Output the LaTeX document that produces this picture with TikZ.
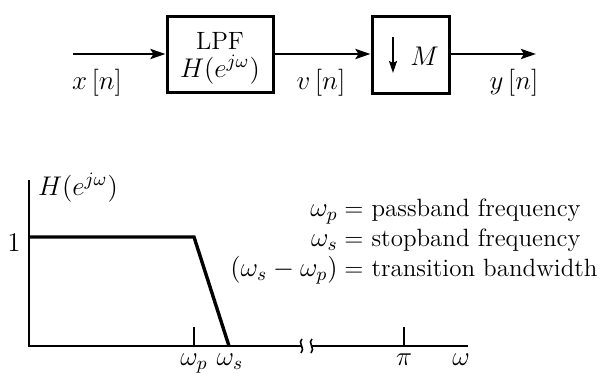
\RequirePackage{fix-cm}
\documentclass[tikz,border=0pt]{standalone}
\usetikzlibrary{arrows.meta}
\begin{document}
\begin{tikzpicture}[x=0.5pt,y=-0.5pt,
  every node/.style={font=\fontsize{12.5}{15}\selectfont, inner sep=0pt},
  mathlab/.style={font=\fontsize{13.5}{15}\selectfont},
  blockbox/.style={draw, line width=1.5pt},
  sig/.style={line width=1.4pt, -{Stealth[length=7.5pt,width=5pt,inset=1.5pt]}},
  axisline/.style={line width=0.9pt},
  resp/.style={line width=1.7pt, line join=miter},
  tickline/.style={line width=0.6pt}]
\useasboundingbox (0,0) rectangle (600,374);
% ---- block diagram ----
\coordinate (in) at (73,54);
\node[blockbox, minimum width=53pt, minimum height=38pt] (lpf) at (220,55) {};
\node (lpft) at (220,41) {LPF};
\node[mathlab] (lpfh) at (220,70) {$H(e^{j\omega})$};
\node[blockbox, minimum width=38.5pt, minimum height=38.5pt] (dec) at (410.5,55.5) {};
\coordinate (out) at (536,54);
\coordinate (dtop) at (393,37);
\coordinate (dbot) at (393,73);
\node[mathlab, anchor=west] (mlab) at (410,56) {$M$};
\draw[sig] (in) -- (in -| lpf.west);
\draw[sig] (lpf.east |- in) -- (in -| dec.west);
\draw[sig] (dec.east |- out) -- (out);
\draw[line width=1pt, -{Stealth[length=6pt,width=4pt,inset=1pt]}] (dtop) -- (dbot);
\node[mathlab] (xn) at (97,83) {$x\,[n]$};
\node[mathlab] (vn) at (321,83) {$v\,[n]$};
\node[mathlab] (yn) at (514,83) {$y\,[n]$};
% ---- frequency response ----
\coordinate (o) at (29,346);
\coordinate (ytop) at (29,180);
\coordinate (b1) at (302,346);
\coordinate (b2) at (312,346);
\coordinate (xend) at (468,346);
\draw[axisline] (ytop) -- (o) -- (b1);
\draw[axisline] (b2) -- (xend);
\draw[line width=0.8pt] (302,339) .. controls (297,342) and (306,349) .. (301,353);
\draw[line width=0.8pt] (312,339) .. controls (307,342) and (316,349) .. (311,353);
\coordinate (p1) at (29,237);
\coordinate (wp) at (194,237);
\coordinate (ws) at (229,346);
\draw[resp] (p1) -- (wp) -- (ws);
\coordinate (tp) at (194,327);
\coordinate (tpb) at (194,346);
\coordinate (tpi) at (404,327);
\coordinate (tpib) at (404,346);
\draw[tickline] (tp) -- (tpb);
\draw[tickline] (tpi) -- (tpib);
\node[mathlab] (hlab) at (78,188) {$H(e^{j\omega})$};
\node[mathlab] (one) at (14,243) {1};
\node[mathlab, anchor=north] (wpl) at (194,353) {$\omega_p$};
\node[mathlab, anchor=north] (wsl) at (230,353) {$\omega_s$};
\node[mathlab, anchor=north] (pil) at (404,353) {$\pi$};
\node[mathlab, anchor=north] (wl) at (461,353) {$\omega$};
\node[mathlab, anchor=base east] (l1) at (338,216) {$\omega_p$};
\node[anchor=base west] (r1) at (344,216) {$=$ passband frequency};
\node[mathlab, anchor=base east] (l2) at (338,246) {$\omega_s$};
\node[anchor=base west] (r2) at (344,246) {$=$ stopband frequency};
\node[mathlab, anchor=base east] (l3) at (338,276) {$(\omega_s-\omega_p)$};
\node[anchor=base west] (r3) at (344,276) {$=$ transition bandwidth};
\end{tikzpicture}
\end{document}
